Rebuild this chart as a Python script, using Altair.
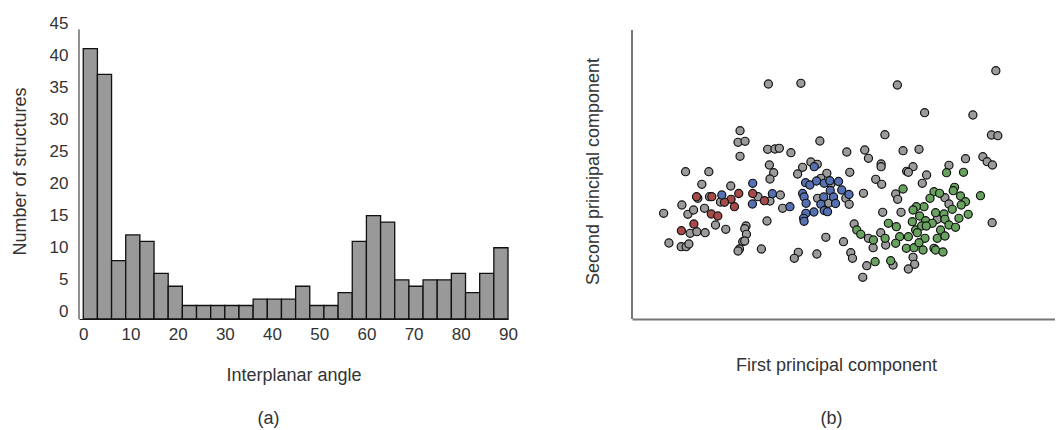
import altair as alt
import pandas as pd

FONT = "Liberation Sans"
TXT = "#333333"

# ---------------- (a) histogram of interplanar angles ----------------
bin_start = [0, 3, 6, 9, 12, 15, 18, 21, 24, 27, 30, 33, 36, 39, 42,
             45, 48, 51, 54, 57, 60, 63, 66, 69, 72, 75, 78, 81, 84, 87]
bin_end = [3, 6, 9, 12, 15, 18, 21, 24, 27, 30, 33, 36, 39, 42, 45,
           48, 51, 54, 57, 60, 63, 66, 69, 72, 75, 78, 81, 84, 87, 90]
counts = [41, 37, 8, 12, 11, 6, 4, 1, 1, 1, 1, 1, 2, 2, 2,
          4, 1, 1, 3, 11, 15, 14, 5, 4, 5, 5, 6, 3, 6, 10]
x_ticks = [0, 10, 20, 30, 40, 50, 60, 70, 80, 90]
y_ticks = [0, 5, 10, 15, 20, 25, 30, 35, 40, 45]

# ---------------- (b) PCA scatter ----------------
gray_pc1 = [136.7, 169.3, 266, 364.7, 293.3, 341.7, 108.3, 106.3, 113.3, 108.3, 188.3, 253.5, 360.3, 366.7,
            136, 143.3, 147.7, 159.3, 215.3, 233.3, 237, 271.7, 287.7, 334.3, 351.7, 356, 361.3,
            137.7, 142, 171, 179.3, 185.7, 195.3, 218.3, 249.7, 249.7, 244.3, 166, 250.3, 281.7, 275.3, 277, 295.3, 317.7,
            53.7, 77, 70, 99, 138.3, 66, 77.7, 88.7, 126.3, 138.3, 50, 56, 61.7, 72.7,
            31.7, 83.7, 94, 58.3, 65, 73.3, 37, 49.3, 54.3, 57,
            114.3, 113, 114.7, 111, 113, 107.7, 106.3, 129.7, 135.3, 189.3, 199.3, 148.7,
            186, 214.3, 217.7, 232, 197, 151,
            251.3, 194.3, 212, 185.3, 166.7, 162.7, 222.7, 237, 241.7, 249.3, 219.3, 221, 235.3, 231.3, 264.3, 266.3,
            291, 313.7, 317.7, 361, 269.7,
            306, 254.3, 261.7, 281.7, 283.3, 277]
gray_pc2 = [235, 235.7, 234, 248.3, 206.3, 204, 188.3, 176.7, 177.7, 162.7, 178, 184.3, 184, 183.3,
            169.7, 170, 170.7, 166.3, 167, 169, 160.7, 168.3, 169.7, 160.3, 162.3, 157.3, 154,
            154, 146.3, 151.7, 157, 154.7, 145.7, 146.7, 155, 152.3, 139.7, 145, 134.7, 152.3, 147.7, 146.7, 144, 153.7,
            147.3, 147.3, 134.7, 133, 140, 120.7, 122.3, 117, 122.3, 118, 114, 104.7, 109, 110.7,
            105.7, 94, 89.7, 85.7, 87.3, 86.3, 76, 72.3, 72.3, 75,
            93, 90.3, 84.7, 77.3, 78, 70, 68, 70, 98, 140.7, 135, 124,
            120.7, 120.7, 114.7, 125.7, 115.7, 110.7,
            106.7, 81.7, 77.3, 65, 66.7, 60.7, 95, 80.7, 71.3, 86.3, 66.3, 60.7, 53.3, 41.7, 125, 119.7,
            135.7, 121.3, 115, 96.3, 106.7,
            99.7, 74, 54, 61.7, 54.7, 50]

red_pc1 = [64.7, 80, 99.3, 107, 102.7, 121, 132.7, 92.7, 79.5, 86, 62, 49.5]
red_pc2 = [122.3, 122.3, 119.7, 125.5, 112.3, 125.5, 118.3, 116.7, 105, 103, 95, 88.3]

blue_pc1 = [90, 121, 140.7, 120.7, 158.3, 182.7, 174, 178.3, 185, 192.7, 198.3, 207, 198.7, 210.2,
            217.5, 171, 172.5, 174.5, 192.2, 202, 189.3, 204, 182.3, 174.3, 192.7, 196, 172, 172.5]
blue_pc2 = [124, 135.7, 125.3, 115, 112.3, 152.3, 136.3, 134, 138, 135.7, 138.3, 137.5, 128.5, 129,
            124.5, 125.5, 122, 115.7, 122, 122, 114.8, 115.5, 107, 105.7, 108.5, 107.3, 100.7, 97.7]

green_pc1 = [315.3, 332.3, 271.7, 302.7, 308.3, 323.3, 322, 329.3, 334.3, 330,
             321, 298.7, 349.3, 292.7, 285, 281.7, 288.3, 304.3, 312.7, 313.7,
             327.7, 337, 257, 265, 281, 294.3, 284.3, 290.3, 301, 309.3,
             317.7, 324.3, 253.7, 268.3, 277, 286, 293.7, 306, 313.7, 264.3,
             275, 282.7, 287.7, 291.7, 302.7, 304.3, 311.7, 259.3, 225.3, 229.3,
             242, 243.7, 295]
green_pc2 = [146.3, 146.7, 130, 127.3, 125.7, 131.7, 128.3, 123, 117.3, 114,
             109.7, 120.7, 123.3, 112.3, 112.3, 109, 103, 106.3, 105, 99.7,
             100.7, 104.7, 95.7, 92.3, 97.3, 98.3, 89, 93, 95.7, 89,
             94, 91.7, 80.7, 82.3, 82.3, 86.3, 80.7, 80.7, 83, 75.7,
             70.7, 71.3, 76.3, 69, 70.7, 69, 67, 58.3, 89, 84.7,
             79, 57.3, 93]

groups = ["other", "red", "blue", "green"]
group_colors = ["#9b9b9b", "#a64a4a", "#5571b4", "#68a25f"]

# ---------------- tables ----------------
hist_df = pd.DataFrame({"start": bin_start, "end": bin_end, "count": counts})
scat_df = pd.concat([
    pd.DataFrame({"pc1": gray_pc1, "pc2": gray_pc2, "grp": "other"}),
    pd.DataFrame({"pc1": red_pc1, "pc2": red_pc2, "grp": "red"}),
    pd.DataFrame({"pc1": blue_pc1, "pc2": blue_pc2, "grp": "blue"}),
    pd.DataFrame({"pc1": green_pc1, "pc2": green_pc2, "grp": "green"}),
], ignore_index=True)
one = pd.DataFrame({"k": [0]})

# ---------------- left panel ----------------
xh = alt.Scale(domain=[-0.9, 90], nice=False, zero=False)
yh = alt.Scale(domain=[-1.1, 45], nice=False, zero=False)
xh_axis = alt.Axis(values=x_ticks, title="Interplanar angle", domainColor="#222222",
                   domainWidth=1, labelPadding=7, titlePadding=24, labelFlush=False,
                   labelOverlap=False)
yh_axis = alt.Axis(values=y_ticks, title="Number of structures", domain=False,
                   labelPadding=11, titlePadding=20, labelFlush=False,
                   labelOverlap=False)

bars = alt.Chart(hist_df).mark_bar(fill="#999999", stroke="#111111", strokeWidth=1.3).encode(
    x=alt.X("start:Q", scale=xh, axis=xh_axis),
    x2="end:Q",
    y=alt.Y("count:Q", scale=yh, axis=yh_axis),
    y2=alt.Y2Datum(-1.1),
)
left_rule = alt.Chart(one).mark_rule(color="#222222", strokeWidth=1).encode(
    x=alt.XDatum(-0.9, scale=xh, axis=xh_axis),
    y=alt.YDatum(-1.1, scale=yh, axis=yh_axis),
    y2=alt.Y2Datum(44),
)
left = alt.layer(bars, left_rule).properties(
    width=429, height=296,
    title=alt.TitleParams("(a)", orient="bottom", anchor="middle", offset=26, dx=-25,
                          fontSize=18, font=FONT, color=TXT, fontWeight="normal"),
)

# ---------------- right panel ----------------
xs = alt.Scale(domain=[0, 424], nice=False, zero=False)
ys = alt.Scale(domain=[0, 296], nice=False, zero=False)
xs_axis = alt.Axis(labels=False, title="First principal component", domainColor="#777777",
                   domainWidth=2, titlePadding=37, titleX=204)
ys_axis = alt.Axis(labels=False, domain=False, title="Second principal component",
                   titlePadding=30)

pts = alt.Chart(scat_df).mark_circle(size=66, opacity=1, stroke="#111111", strokeWidth=1.2).encode(
    x=alt.X("pc1:Q", scale=xs, axis=xs_axis),
    y=alt.Y("pc2:Q", scale=ys, axis=ys_axis),
    color=alt.Color("grp:N", scale=alt.Scale(domain=groups, range=group_colors), legend=None),
)
right_rule = alt.Chart(one).mark_rule(color="#777777", strokeWidth=2).encode(
    x=alt.XDatum(0, scale=xs, axis=xs_axis),
    y=alt.YDatum(0, scale=ys, axis=ys_axis),
    y2=alt.Y2Datum(289),
)
right = alt.layer(pts, right_rule).properties(
    width=423, height=296,
    title=alt.TitleParams("(b)", orient="bottom", anchor="middle", offset=36, dx=-12,
                          fontSize=18, font=FONT, color=TXT, fontWeight="normal"),
)

chart = alt.hconcat(left, right, spacing=124, bounds="flush").properties(
    padding={"left": 11, "top": 14, "right": 0, "bottom": 0},
    background="white",
).configure_view(stroke=None).configure_axis(
    grid=False, ticks=False,
    labelFont=FONT, titleFont=FONT, labelFontSize=17, titleFontSize=18,
    labelColor=TXT, titleColor=TXT, titleFontWeight="normal",
)

chart.save("out.html", embed_options={"renderer": "svg", "actions": False})
